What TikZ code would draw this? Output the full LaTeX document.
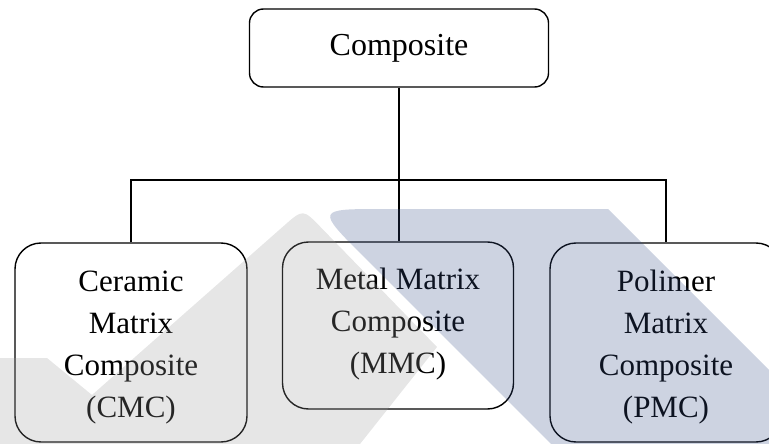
\documentclass[tikz,border=0pt]{standalone}
\usepackage{fontspec}
\setmainfont{Liberation Serif}
\definecolor{wmgraybase}{RGB}{155,155,155}
\definecolor{wmbluebase}{RGB}{55,79,135}
\begin{document}
\begin{tikzpicture}[x=1pt,y=-1pt,
  box/.style={draw, line width=1.4pt, rounded corners=26pt, inner sep=0pt},
  topbox/.style={draw, line width=1.4pt, rounded corners=14pt, inner sep=0pt,
                 font=\fontsize{32}{38}\selectfont},
  txt/.style={align=center, inner sep=0pt, font=\fontsize{31}{42}\selectfont},
  link/.style={line width=1.4pt},
  wmgray/.style={fill=wmgraybase, fill opacity=0.25},
  wmblue/.style={fill=wmbluebase, fill opacity=0.25}]
\useasboundingbox (0,0) rectangle (769,444);

% boxes
\node[topbox, minimum width=299pt, minimum height=78pt] (comp) at (399,48) {Composite};
\node[box, minimum width=232pt, minimum height=199pt] (cmc) at (131,342.5) {};
\node[box, minimum width=231pt, minimum height=167pt] (mmc) at (398,325.5) {};
\node[box, minimum width=232pt, minimum height=199pt] (pmc) at (666,342.5) {};

% texts
\node[txt] (cmctxt) at (131,348) {Ceramic\\Matrix\\Composite\\(CMC)};
\node[txt] (mmctxt) at (398,324) {Metal Matrix\\Composite\\(MMC)};
\node[txt] (pmctxt) at (666,347) {Polimer\\Matrix\\Composite\\(PMC)};

% connectors
\coordinate (bus) at (comp.south |- 0,180);
\draw[link] (comp.south) -- (comp.south |- mmc.north);
\draw[link] (cmc.north) |- (bus) -| (pmc.north);

% watermark
\begin{scope}
\clip (0,0) rectangle (769,444);
\fill[wmgray] (0,358) -- (47,358) -- (92,395) -- (284.25,225.5)
   .. controls (303,209) .. (320.4,226.9) -- (437,347) -- (360,444) -- (0,444) -- cycle;
\fill[wmblue] (364,257) .. controls (316,209) .. (384,209) -- (608,209)
   -- (843,444) -- (551,444) -- cycle;
\end{scope}
\end{tikzpicture}
\end{document}
